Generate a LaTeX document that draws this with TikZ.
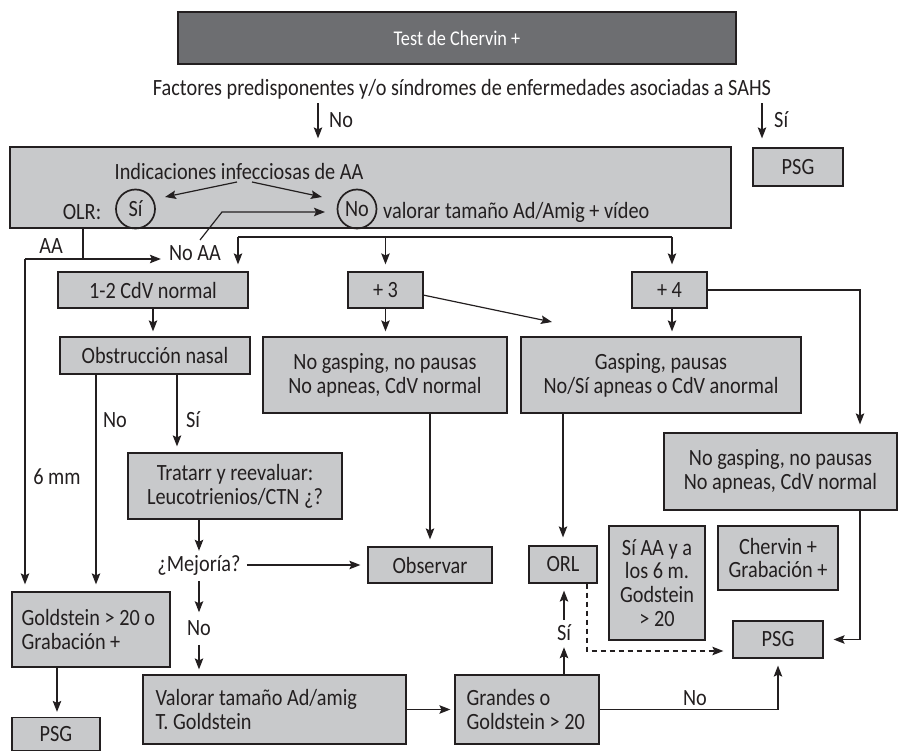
\documentclass[tikz,border=0pt]{standalone}
\usepackage{fontspec}
\setmainfont{Carlito}[FakeStretch=0.87]
\usetikzlibrary{arrows.meta,calc}
\definecolor{boxgray}{RGB}{200,201,203}
\definecolor{darkbox}{RGB}{109,110,113}
\definecolor{ink}{RGB}{35,31,32}
\begin{document}
\begin{tikzpicture}[x=1pt,y=-1pt,
  every node/.style={font=\fontsize{23.3}{23.8}\selectfont, text=ink},
  box/.style={draw=ink, fill=boxgray, line width=1.2pt, inner sep=0pt, align=center},
  lbl/.style={inner sep=0pt},
  ltxt/.style={inner sep=0pt, align=left, anchor=west},
  circ/.style={circle, draw=ink, line width=1.7pt, minimum size=39pt, inner sep=0pt},
  ln/.style={draw=ink, line width=1.2pt},
  arr/.style={draw=ink, line width=1.2pt, -{Stealth[length=11pt,width=8.5pt,inset=2pt]}},
]
\useasboundingbox (0,0) rectangle (898,751);

% ---------- nodes ----------
\node[box, fill=darkbox, text=white, minimum width=558pt, minimum height=52pt, font=\fontsize{21}{24}\selectfont] (chervin) at (457,38) {Test de Chervin +};
\node[lbl] (factores) at (462,89) {Factores predisponentes y/o síndromes de enfermedades asociadas a SAHS};
\node[box, minimum width=721pt, minimum height=81pt] (indic) at (370.5,187.5) {};
\node[lbl] (indictext) at (239,171) {Indicaciones infecciosas de AA};
\node[lbl] (olr) at (82,212) {OLR:};
\node[circ] (si) at (135.5,209) {Sí};
\node[circ] (no) at (357,209) {No};
\node[lbl, anchor=west] (valtxt) at (383,212) {valorar tamaño Ad/Amig + vídeo};
\node[box, minimum width=90pt, minimum height=38pt] (psg1) at (798,167) {PSG};

\node[lbl] (noAA) at (195,253) {No AA};
\node[lbl] (aaLbl) at (51,246) {AA};

\node[box, minimum width=190pt, minimum height=36pt] (cdv) at (153,290) {1-2 CdV normal};
\node[box, minimum width=75pt, minimum height=36pt] (plus3) at (385.5,290) {+ 3};
\node[box, minimum width=75pt, minimum height=36pt] (plus4) at (669.5,290) {+ 4};
\node[box, minimum width=190pt, minimum height=37pt] (obstr) at (155,355.5) {Obstrucción nasal};
\node[box, minimum width=244pt, minimum height=76pt] (ng1) at (385,375) {No gasping, no pausas\\No apneas, CdV normal};
\node[box, minimum width=280pt, minimum height=76pt] (gasp) at (661,375) {Gasping, pausas\\No/Sí apneas o CdV anormal};
\node[box, minimum width=233pt, minimum height=77pt] (ng2) at (780.5,471.5) {No gasping, no pausas\\No apneas, CdV normal};
\node[box, minimum width=214pt, minimum height=66pt] (tratar) at (235,486) {Tratarr y reevaluar:\\Leucotrienios/CTN ¿?};
\node[lbl] (mej) at (199,565) {¿Mejoría?};
\node[box, minimum width=124pt, minimum height=36pt] (obs) at (430,565) {Observar};
\node[box, minimum width=68pt, minimum height=37pt] (orl) at (563,564.5) {ORL};
\node[box, minimum width=96pt, minimum height=114pt] (siaa) at (657,583) {Sí AA y a\\los 6 m.\\Godstein\\> 20};
\node[box, minimum width=120pt, minimum height=64pt] (cherv2) at (778,558) {Chervin +\\Grabación +};
\node[box, minimum width=90pt, minimum height=37pt] (psg2) at (778,639.5) {PSG};
\node[box, minimum width=158pt, minimum height=75pt] (gold) at (91,629.5) {};
\node[ltxt] (goldtxt) at ([xshift=10pt]gold.west) {Goldstein > 20 o\\Grabación +};
\node[box, minimum width=88pt, minimum height=33pt] (psg3) at (56,734) {PSG};
\node[box, minimum width=263pt, minimum height=69pt] (val) at (274.5,709.5) {};
\node[ltxt] (valtxt2) at ([xshift=13pt]val.west) {Valorar tamaño Ad/amig\\T. Goldstein};
\node[box, minimum width=144pt, minimum height=69pt] (grandes) at (527,709.5) {};
\node[ltxt] (grtxt) at ([xshift=12pt]grandes.west) {Grandes o\\Goldstein > 20};

% labels
\node[lbl, anchor=west] (noLbl1) at (329,120) {No};
\node[lbl, anchor=west] (siLbl1) at (774,120) {Sí};
\node[lbl] (noLbl2) at (115,420) {No};
\node[lbl] (siLbl2) at (193,420) {Sí};
\node[lbl] (mmLbl) at (57,477) {6 mm};
\node[lbl] (noLbl3) at (199,628) {No};
\node[lbl] (siLbl3) at (564,633) {Sí};
\node[lbl] (noLbl4) at (695,698) {No};

% ---------- coordinates ----------
\coordinate (xNoTop) at (318,0);
\coordinate (xSiTop) at (762,0);
\coordinate (ia) at (237,182);
\coordinate (ib) at (252,182);
\coordinate (ta) at (165,197);
\coordinate (tb) at (322,197);
\coordinate (nb1) at (200,240);
\coordinate (nb2) at (222,212);
\coordinate (nbt) at (325,212);
\coordinate (xAA) at (83,0);
\coordinate (jA) at (25,259);
\coordinate (d1) at (238,237);
\coordinate (d3) at (672,237);
\coordinate (xNo) at (96,0);
\coordinate (xSi) at (177,0);
\coordinate (x430) at (430,0);
\coordinate (dg1) at (423,295);
\coordinate (dg2) at (552,322);
\coordinate (xR) at (860,0);
\coordinate (xD) at (587,0);
\coordinate (dY) at (0,651);
\coordinate (x57) at (57,0);

% ---------- connectors ----------
\draw[arr, shorten <=4pt, shorten >=8pt] (factores.south -| xNoTop) -- (indic.north -| xNoTop);
\draw[arr, shorten <=4pt, shorten >=9pt] (factores.south -| xSiTop) -- (psg1.north -| xSiTop);
\draw[arr] (ia) -- (ta);
\draw[arr] (ib) -- (tb);
\draw[arr] (nb1) -- (nb2) -- (nbt);

\draw[ln] (indic.south -| xAA) -- (xAA |- jA);
\draw[arr, shorten >=8pt] (jA) -- (jA -| noAA.west);
\draw[arr, shorten >=7pt] (jA) -- (jA |- gold.north);

\draw[ln] (d1) -- (d3);
\draw[arr, shorten >=7pt] (d1) -- (d1 |- cdv.north);
\draw[arr, shorten >=7pt] (plus3.north |- d1) -- (plus3.north);
\draw[arr, shorten >=7pt] (d3) -- (d3 |- plus4.north);

\draw[arr, shorten >=5pt] (cdv.south) -- (cdv.south |- obstr.north);
\draw[arr, shorten >=7pt] (obstr.south -| xNo) -- (gold.north -| xNo);
\draw[arr, shorten >=6pt] (obstr.south -| xSi) -- (tratar.north -| xSi);
\draw[arr, shorten >=4pt] (tratar.south -| mej.north) -- (mej.north);
\draw[arr, shorten <=6pt, shorten >=7pt] (mej.east) -- (obs.west |- mej.east);
\draw[arr, shorten <=6pt, shorten >=8pt] (mej.south) -- (noLbl3.north);
\draw[arr, shorten <=9pt, shorten >=5pt] (noLbl3.south) -- (val.north -| noLbl3.south);

\draw[arr, shorten >=5pt] (plus3.south) -- (plus3.south |- ng1.north);
\draw[arr] (dg1) -- (dg2);
\draw[arr, shorten >=5pt] (plus4.south -| d3) -- (gasp.north -| d3);
\draw[arr, shorten >=8pt] (plus4.east) -- (plus4.east -| xR) -- (xR |- ng2.north);
\draw[arr, shorten >=7pt] (ng1.south -| x430) -- (obs.north -| x430);
\draw[arr, shorten >=8pt] (gasp.south -| orl.north) -- (orl.north);
\draw[arr, shorten >=10pt] (ng2.south -| xR) -- (xR |- psg2.east) -- (psg2.east);
\draw[arr, dash pattern=on 5pt off 4pt, shorten >=9pt] (orl.south -| xD) -- (xD |- dY) -- (psg2.west |- dY);
\draw[arr, shorten >=6pt] (grandes.north -| siLbl3.south) -- (siLbl3.south);
\draw[arr, shorten <=5pt, shorten >=7pt] (siLbl3.north) -- (siLbl3.north |- orl.south);
\draw[arr, shorten >=4pt] (val.east) -- (grandes.west);
\draw[arr, shorten >=7pt] (grandes.east) -- (grandes.east -| psg2.south) -- (psg2.south);
\draw[arr, shorten >=5pt] (gold.south -| x57) -- (psg3.north -| x57);
\end{tikzpicture}
\end{document}
